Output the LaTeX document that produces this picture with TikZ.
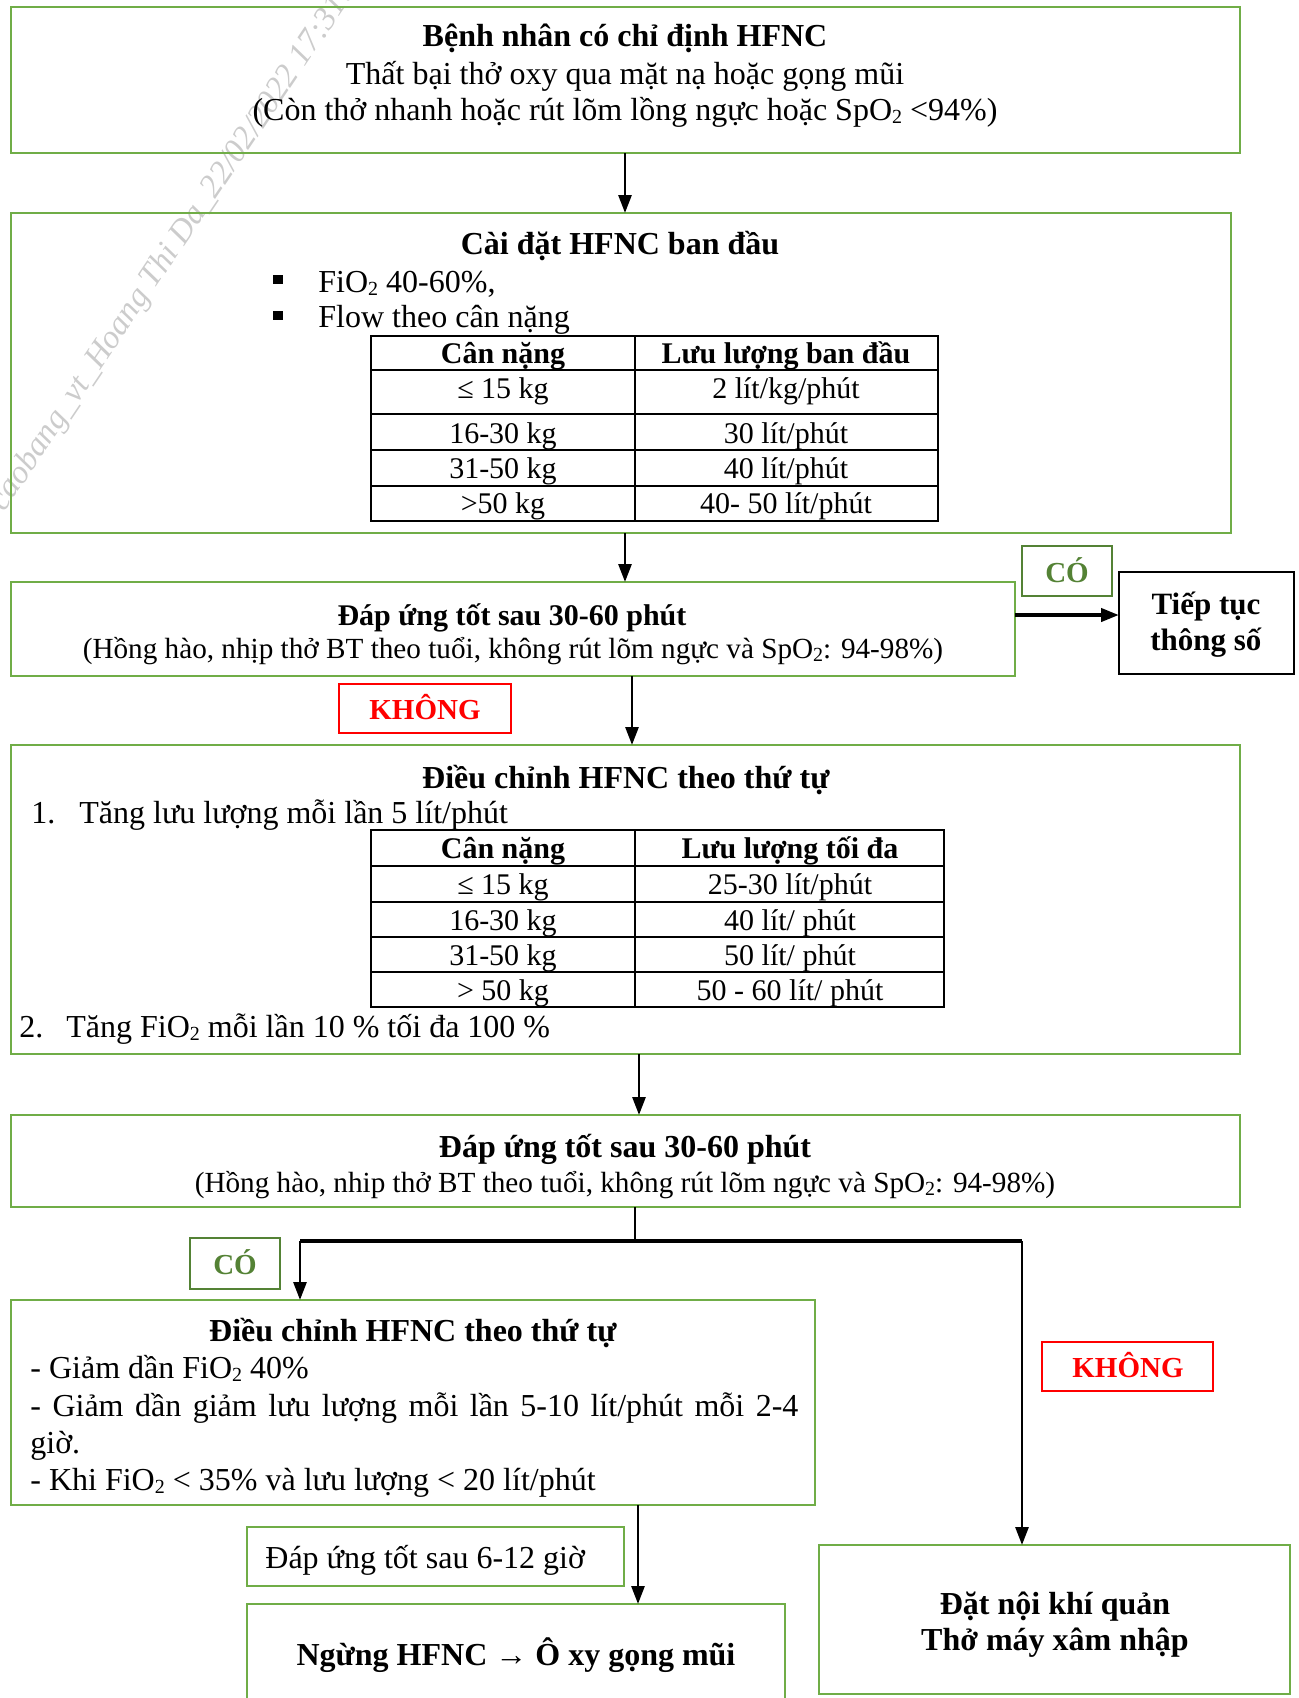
\documentclass[tikz,border=0pt]{standalone}
\usepackage{fontspec}
\setmainfont{Liberation Serif}
\usetikzlibrary{arrows.meta,fit}
\definecolor{gline}{RGB}{112,173,71}
\definecolor{gdark}{RGB}{84,130,53}
\definecolor{rline}{RGB}{255,0,0}
\newcommand\mainsz{\fontsize{16}{19}\selectfont}
\newcommand\smsz{\fontsize{14.6}{17.5}\selectfont}
\newcommand\tabsz{\fontsize{15}{18}\selectfont}
\newcommand\labsz{\fontsize{14.5}{17}\selectfont}
\newcommand\sbt[1]{\raisebox{-1.6pt}{\fontsize{10}{10}\selectfont #1}}
\begin{document}
\begin{tikzpicture}[x=0.5pt,y=-0.5pt,
  gbox/.style={draw=gline, line width=1.25pt, rectangle, inner sep=0pt, outer sep=0pt},
  kbox/.style={draw=black, line width=1.1pt, rectangle, inner sep=0pt, outer sep=0pt},
  cobox/.style={draw=gdark, line width=1pt, rectangle, inner sep=0pt, outer sep=0pt},
  khbox/.style={draw=rline, line width=1.25pt, rectangle, inner sep=0pt, outer sep=0pt},
  arr/.style={line width=1.4pt, -{Triangle[length=9pt,width=6.5pt]}},
  tc/.style={inner sep=0pt, anchor=base, font=\mainsz},
  tl/.style={inner sep=0pt, anchor=base west, font=\mainsz},
  tt/.style={inner sep=0pt, anchor=base, font=\tabsz},
  tab/.style={line width=1pt, draw=black},
  colab/.style={inner sep=0pt, anchor=base, font=\labsz\bfseries, text=gdark},
  khlab/.style={inner sep=0pt, anchor=base, font=\labsz\bfseries, text=rline}
]
\useasboundingbox (0,0) rectangle (1299,1698);
\clip (0,0) rectangle (1299,1698);

% watermark
\node[rotate=56, anchor=west, inner sep=0pt, text=gray!40, font=\itshape\fontsize{16.5}{19}\selectfont] (wm) at (-2,508) {caobang\_vt\_Hoang Thi Da\_22/02/2022 17:31:35};

% boxes
\node[gbox, fit={(11,7) (1240,153)}] (b1) {};
\node[gbox, fit={(11,213) (1231,533)}] (b2) {};
\node[gbox, fit={(11,582) (1015,676)}] (b3) {};
\node[kbox, fit={(1119,572) (1294,674)}] (b3r) {};
\node[cobox, fit={(1022,546) (1112,596)}] (co1) {};
\node[khbox, fit={(339,684) (511,733)}] (kh1) {};
\node[gbox, fit={(11,745) (1240,1054)}] (b4) {};
\node[gbox, fit={(11,1115) (1240,1207)}] (b5) {};
\node[cobox, fit={(190,1238) (280,1289)}] (co2) {};
\node[gbox, fit={(11,1300) (815,1505)}] (b6) {};
\node[khbox, fit={(1042,1342) (1213,1391)}] (kh2) {};
\node[gbox, fit={(247,1527) (624,1586)}] (sm) {};
\node[gbox, fit={(247,1604) (785,1712)}] (b7) {};
\node[gbox, fit={(819,1545) (1290,1694)}] (b8) {};

% box 1 text
\node[tc] (t1a) at (625,46) {\textbf{Bệnh nhân có chỉ định HFNC}};
\node[tc] (t1b) at (625,84) {Thất bại thở oxy qua mặt nạ hoặc gọng mũi};
\node[tc] (t1c) at (625,120) {(Còn thở nhanh hoặc rút lõm lồng ngực hoặc SpO\sbt{2} <94\%)};

% box 2 text
\node[tc] (t2a) at (620,254) {\textbf{Cài đặt HFNC ban đầu}};
\fill (273,275) rectangle (283,284);
\fill (273,311) rectangle (283,320);
\node[tl] (t2b) at (318,292) {FiO\sbt{2} 40-60\%,};
\node[tl] (t2c) at (318,327) {Flow theo cân nặng};
% table 1
\draw[tab] (371,336) rectangle (938,521);
\draw[tab] (635,336) -- (635,521);
\foreach \yy in {370,414,450,486} \draw[tab] (371,\yy) -- (938,\yy);
\node[tt] (c11) at (503,363) {\textbf{Cân nặng}};
\node[tt] (c12) at (786,363) {\textbf{Lưu lượng ban đầu}};
\node[tt] (c21) at (503,398) {≤ 15 kg};
\node[tt] (c22) at (786,398) {2 lít/kg/phút};
\node[tt] (c31) at (503,443) {16-30 kg};
\node[tt] (c32) at (786,443) {30 lít/phút};
\node[tt] (c41) at (503,478) {31-50 kg};
\node[tt] (c42) at (786,478) {40 lít/phút};
\node[tt] (c51) at (503,513) {>50 kg};
\node[tt] (c52) at (786,513) {40- 50 lít/phút};

% box 3 text
\node[tc, font=\tabsz] (t3a) at (512,625) {\textbf{Đáp ứng tốt sau 30-60 phút}};
\node[tc, font=\smsz] (t3b) at (513,658) {(Hồng hào, nhịp thở BT theo tuổi, không rút lõm ngực và SpO\sbt{2}: 94-98\%)};
\node[tc, font=\fontsize{15.5}{18}\selectfont] (t3c) at (1206,614) {\textbf{Tiếp tục}};
\node[tc, font=\fontsize{15.5}{18}\selectfont] (t3d) at (1206,650) {\textbf{thông số}};
\node[colab] (lco1) at (1067,582) {CÓ};
\node[khlab] (lkh1) at (425,719) {KHÔNG};

% box 4 text
\node[tc] (t4a) at (626,788) {\textbf{Điều chỉnh HFNC theo thứ tự}};
\node[tl] (t4n1) at (31,823) {1.};
\node[tl] (t4b) at (79,823) {Tăng lưu lượng mỗi lần 5 lít/phút};
\draw[tab] (371,830) rectangle (944,1007);
\draw[tab] (635,830) -- (635,1007);
\foreach \yy in {866,902,937,972} \draw[tab] (371,\yy) -- (944,\yy);
\node[tt] (d11) at (503,858) {\textbf{Cân nặng}};
\node[tt] (d12) at (790,858) {\textbf{Lưu lượng tối đa}};
\node[tt] (d21) at (503,894) {≤ 15 kg};
\node[tt] (d22) at (790,894) {25-30 lít/phút};
\node[tt] (d31) at (503,930) {16-30 kg};
\node[tt] (d32) at (790,930) {40 lít/ phút};
\node[tt] (d41) at (503,965) {31-50 kg};
\node[tt] (d42) at (790,965) {50 lít/ phút};
\node[tt] (d51) at (503,1000) {> 50 kg};
\node[tt] (d52) at (790,1000) {50 - 60 lít/ phút};
\node[tl] (t4n2) at (19,1037) {2.};
\node[tl] (t4c) at (66,1037) {Tăng FiO\sbt{2} mỗi lần 10 \% tối đa 100 \%};

% box 5 text
\node[tc] (t5a) at (625,1157) {\textbf{Đáp ứng tốt sau 30-60 phút}};
\node[tc, font=\smsz] (t5b) at (625,1192) {(Hồng hào, nhip thở BT theo tuổi, không rút lõm ngực và SpO\sbt{2}: 94-98\%)};
\node[colab] (lco2) at (235,1274) {CÓ};
\node[khlab] (lkh2) at (1128,1377) {KHÔNG};

% box 6 text
\node[tc] (t6a) at (413,1341) {\textbf{Điều chỉnh HFNC theo thứ tự}};
\node[tl] (t6b) at (30,1378) {- Giảm dần FiO\sbt{2} 40\%};
\node[tl] (t6c) at (30,1416) {\makebox[384pt][s]{- Giảm dần giảm lưu lượng mỗi lần 5-10 lít/phút mỗi 2-4}};
\node[tl] (t6d) at (30,1453) {giờ.};
\node[tl] (t6e) at (30,1490) {- Khi FiO\sbt{2} < 35\% và lưu lượng < 20 lít/phút};

% lower boxes text
\node[tl] (tsm) at (265,1568) {Đáp ứng tốt sau 6-12 giờ};
\node[tc] (t7) at (516,1665) {\textbf{Ngừng HFNC → Ô xy gọng mũi}};
\node[tc] (t8a) at (1055,1614) {\textbf{Đặt nội khí quản}};
\node[tc] (t8b) at (1055,1650) {\textbf{Thở máy xâm nhập}};

% connectors
\coordinate (xa) at (625,0);
\coordinate (xb) at (632,0);
\coordinate (xc) at (639,0);
\coordinate (xd) at (635,0);
\coordinate (xe) at (638,0);
\coordinate (xl) at (300,0);
\coordinate (xr) at (1022,0);
\coordinate (yr) at (0,615);
\coordinate (yb) at (0,1241);

\draw[arr] (b1.south -| xa) -- (b2.north -| xa);
\draw[arr] (b2.south -| xa) -- (b3.north -| xa);
\draw[arr, line width=2pt] (b3.east |- yr) -- (b3r.west |- yr);
\draw[arr] (b3.south -| xb) -- (b4.north -| xb);
\draw[arr] (b4.south -| xc) -- (b5.north -| xc);
\draw[line width=1.4pt] (b5.south -| xd) -- (xd |- yb);
\draw[line width=2.2pt] (xl |- yb) -- (xr |- yb);
\draw[arr] (xl |- yb) -- (b6.north -| xl);
\draw[arr] (xr |- yb) -- (b8.north -| xr);
\draw[arr] (b6.south -| xe) -- (b7.north -| xe);
\end{tikzpicture}
\end{document}
